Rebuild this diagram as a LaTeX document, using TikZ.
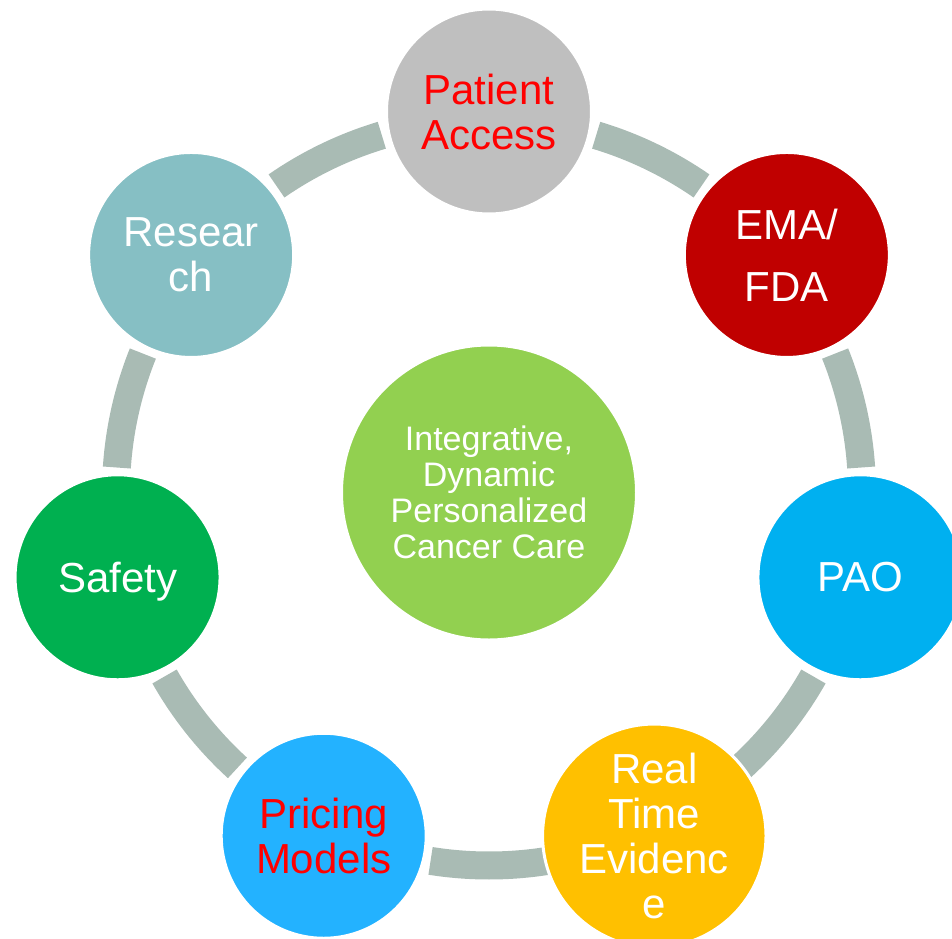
\documentclass[tikz,border=0pt]{standalone}
\usepackage{fontspec}
\setmainfont{Liberation Sans}

\definecolor{ringgray}{HTML}{A9BBB4}
\definecolor{hubgreen}{HTML}{92D050}
\definecolor{accessgray}{HTML}{BFBFBF}
\definecolor{emared}{HTML}{C00000}
\definecolor{paoblue}{HTML}{00B0F0}
\definecolor{rweyellow}{HTML}{FFC000}
\definecolor{pricingblue}{HTML}{23B2FF}
\definecolor{safetygreen}{HTML}{00B050}
\definecolor{researchteal}{HTML}{86BFC4}

\begin{document}
\begin{tikzpicture}[x=1pt, y=1pt,
    bubble/.style={circle, minimum size=205pt, inner sep=0pt, draw=white,
        line width=3pt, text=white, align=center,
        font=\fontsize{42}{45}\selectfont},
    ring/.style={draw=ringgray, line width=28pt}]
    \useasboundingbox (-489, -445.5) rectangle (463, 492.5);
    \clip (-489, -445.5) rectangle (463, 492.5);

    % ring pieces between the bubbles
    \foreach \i in {0, 1, ..., 6} {
        \pgfmathsetmacro{\a}{90 - \i*360/7 - 16.7}
        \pgfmathsetmacro{\b}{90 - (\i+1)*360/7 + 16.7}
        \draw[ring] (\a:373) arc[start angle=\a, end angle=\b, radius=373pt];
    }

    \node[bubble, minimum size=295pt, fill=hubgreen,
        font=\fontsize{34}{36}\selectfont] (hub) at (0, 0)
        {Integrative,\\Dynamic\\Personalized\\Cancer Care};

    \node[bubble, fill=accessgray, text=red] (access) at (90:381) {Patient\\Access};
    \node[bubble, fill=emared, font=\fontsize{42}{62}\selectfont] (ema) at (38.571:381) {EMA/\\FDA};
    \node[bubble, fill=paoblue] (pao) at (-12.857:381) {PAO};
    \node[bubble, fill=rweyellow] (rwe) at (-64.286:381) {Real\\Time\\Evidenc\\e};
    \node[bubble, fill=pricingblue, text=red] (pricing) at (-115.714:381) {Pricing\\Models};
    \node[bubble, fill=safetygreen, text depth=0pt] (safety) at (-167.143:381) {Safety};
    \node[bubble, fill=researchteal] (research) at (141.429:381) {Resear\\ch};
\end{tikzpicture}
\end{document}
